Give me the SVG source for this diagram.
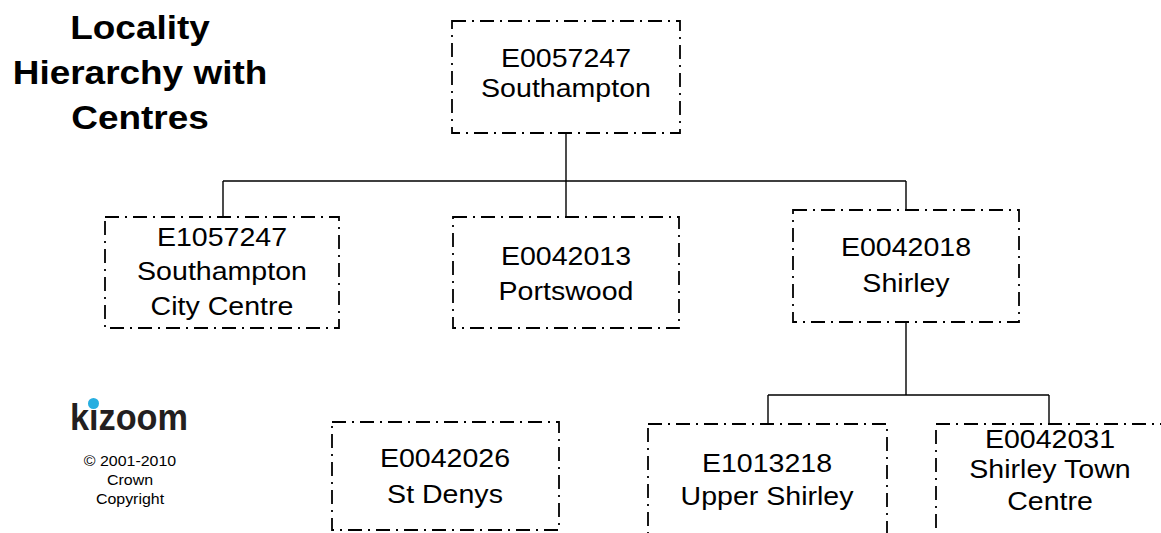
<svg xmlns="http://www.w3.org/2000/svg" width="1161" height="533" viewBox="0 0 1161 533">
  <style>
    .box { fill: none; stroke: #000; stroke-width: 1.8; stroke-dasharray: 14 6 2 6; }
    .conn { fill: none; stroke: #000; stroke-width: 1.4; }
    .t { font-family: "Liberation Sans", Arial, sans-serif; font-size: 25.5px; fill: #000; text-anchor: middle; }
    .title { font-family: "Liberation Sans", Arial, sans-serif; font-size: 33px; font-weight: bold; fill: #000; text-anchor: middle; }
    .copy { font-family: "Liberation Sans", Arial, sans-serif; font-size: 14.5px; fill: #000; text-anchor: middle; }
    .logo { font-family: "Liberation Sans", Arial, sans-serif; font-size: 37px; font-weight: bold; fill: #231f20; }
  </style>
  <rect width="1161" height="533" fill="#fff"/>

  <g id="title">
    <text class="title" transform="matrix(1.12 0 0 1 140 0)" x="0" y="39">Locality</text>
    <text class="title" transform="matrix(1.12 0 0 1 140 0)" x="0" y="84">Hierarchy with</text>
    <text class="title" transform="matrix(1.12 0 0 1 140 0)" x="0" y="129">Centres</text>
  </g>

  <g id="logo">
    <text class="logo" x="70" y="430" textLength="118" lengthAdjust="spacingAndGlyphs">kizoom</text>
    <circle cx="93.5" cy="403.5" r="5.5" fill="#27aee0"/>
    <text class="copy" transform="matrix(1.1 0 0 1 130 0)" x="0" y="466">© 2001-2010</text>
    <text class="copy" transform="matrix(1.1 0 0 1 130 0)" x="0" y="485">Crown</text>
    <text class="copy" transform="matrix(1.1 0 0 1 130 0)" x="0" y="504">Copyright</text>
  </g>

  <g id="connectors">
    <path class="conn" d="M566 133 V181 M223 181 H906 M223 181 V217 M566 181 V217 M906 181 V210"/>
    <path class="conn" d="M906 322 V395 M768 395 H1049 M768 395 V424 M1049 395 V424"/>
  </g>

  <g id="node-E0057247">
    <rect class="box" x="452" y="21" width="228" height="112"/>
    <text class="t" transform="matrix(1.12 0 0 1 566 0)" x="0" y="67">E0057247</text>
    <text class="t" transform="matrix(1.12 0 0 1 566 0)" x="0" y="97">Southampton</text>
  </g>

  <g id="node-E1057247">
    <rect class="box" x="105" y="217" width="234" height="111"/>
    <text class="t" transform="matrix(1.12 0 0 1 222 0)" x="0" y="246">E1057247</text>
    <text class="t" transform="matrix(1.12 0 0 1 222 0)" x="0" y="280">Southampton</text>
    <text class="t" transform="matrix(1.12 0 0 1 222 0)" x="0" y="315">City Centre</text>
  </g>

  <g id="node-E0042013">
    <rect class="box" x="453" y="217" width="226" height="111"/>
    <text class="t" transform="matrix(1.12 0 0 1 566 0)" x="0" y="265">E0042013</text>
    <text class="t" transform="matrix(1.12 0 0 1 566 0)" x="0" y="300">Portswood</text>
  </g>

  <g id="node-E0042018">
    <rect class="box" x="793" y="210" width="226" height="112"/>
    <text class="t" transform="matrix(1.12 0 0 1 906 0)" x="0" y="256">E0042018</text>
    <text class="t" transform="matrix(1.12 0 0 1 906 0)" x="0" y="292">Shirley</text>
  </g>

  <g id="node-E0042026">
    <rect class="box" x="332" y="422" width="227" height="108"/>
    <text class="t" transform="matrix(1.12 0 0 1 445 0)" x="0" y="467">E0042026</text>
    <text class="t" transform="matrix(1.12 0 0 1 445 0)" x="0" y="503">St Denys</text>
  </g>

  <g id="node-E1013218">
    <rect class="box" x="648" y="424" width="239" height="120"/>
    <text class="t" transform="matrix(1.12 0 0 1 767 0)" x="0" y="472">E1013218</text>
    <text class="t" transform="matrix(1.12 0 0 1 767 0)" x="0" y="505">Upper Shirley</text>
  </g>

  <g id="node-E0042031">
    <rect class="box" x="936" y="424" width="226" height="120"/>
    <text class="t" transform="matrix(1.12 0 0 1 1050 0)" x="0" y="448">E0042031</text>
    <text class="t" transform="matrix(1.12 0 0 1 1050 0)" x="0" y="478">Shirley Town</text>
    <text class="t" transform="matrix(1.12 0 0 1 1050 0)" x="0" y="510">Centre</text>
  </g>
</svg>
